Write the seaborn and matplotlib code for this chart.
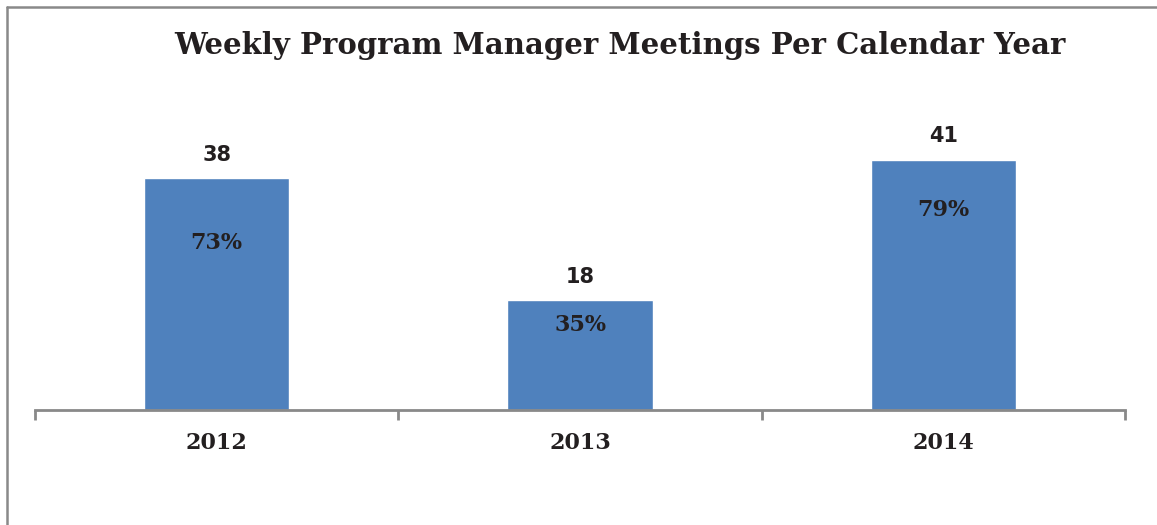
import seaborn as sns
import matplotlib
import matplotlib.pyplot as plt
import pandas as pd

# data
years = ['2012', '2013', '2014']
meetings = [38, 18, 41]
pct_labels = ['73%', '35%', '79%']
# where each percent label sits, as a fraction of its bar height
pct_label_frac = [0.72, 0.77, 0.80]

df = pd.DataFrame({'Year': years, 'Meetings': meetings})

sns.set_style('white')
matplotlib.rcParams['font.family'] = ['DejaVu Serif']

fig = plt.figure(figsize=(11.57, 5.25), dpi=100)
ax = fig.add_axes([35/1157, 115/525, 1090/1157, 305.25/525])

sns.barplot(data=df, x='Year', y='Meetings', color='#4f81bd', width=0.4,
            saturation=1, ax=ax)

ax.set_ylim(0, 50)
ax.set_xlim(-0.5, 2.5)
ax.set_xlabel('')
ax.set_ylabel('')
ax.set_yticks([])
for s in ['top', 'right', 'left']:
    ax.spines[s].set_visible(False)
ax.spines['bottom'].set_color('#898989')
ax.spines['bottom'].set_linewidth(2)

# category boundary ticks like excel
ax.set_xticks([-0.5, 0.5, 1.5, 2.5], minor=True)
ax.tick_params(axis='x', which='minor', bottom=True, length=7, width=2,
               color='#898989', direction='out')
ax.tick_params(axis='x', which='major', length=0, pad=16)
ax.set_xticks(range(len(years)))
ax.set_xticklabels(years, fontsize=16, fontweight='bold', color='#231f20')

for i, v in enumerate(meetings):
    ax.text(i, v + 3.8, str(v), ha='center', va='center', fontsize=15,
            fontweight='bold', color='#231f20', family='DejaVu Sans')
    ax.text(i, v * pct_label_frac[i], pct_labels[i], ha='center', va='center',
            fontsize=16, fontweight='bold', color='#231f20')

fig.text(620/1157, 1 - 46/525, 'Weekly Program Manager Meetings Per Calendar Year',
         ha='center', va='center', fontsize=21, fontweight='bold', color='#231f20')

# outer chart frame (top and left edges visible)
fig.add_artist(matplotlib.lines.Line2D([6.5/1157, 1], [1 - 7/525, 1 - 7/525],
                                       color='#898989', lw=1.8))
fig.add_artist(matplotlib.lines.Line2D([6.5/1157, 6.5/1157], [0, 1 - 7/525],
                                       color='#898989', lw=1.8))

fig.savefig('out.png', dpi=100, facecolor='white')
